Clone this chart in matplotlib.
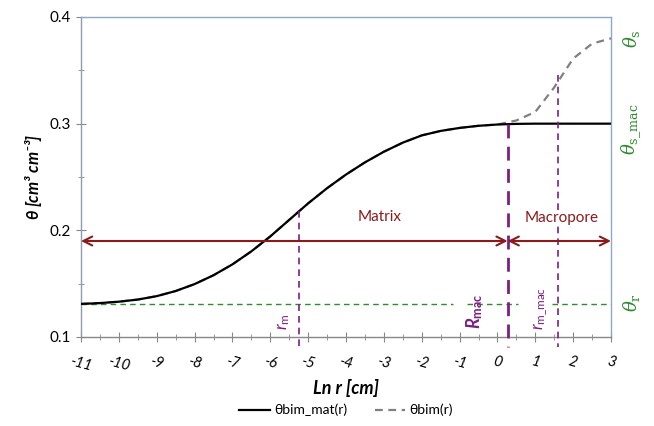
import matplotlib
matplotlib.use('Agg')
import matplotlib.pyplot as plt
import numpy as np

plt.rcParams['font.family'] = ['Lato', 'DejaVu Sans']
plt.rcParams['mathtext.fontset'] = 'custom'
plt.rcParams['mathtext.rm'] = 'Lato'
plt.rcParams['mathtext.it'] = 'Lato:italic'
plt.rcParams['mathtext.bf'] = 'Lato:bold'
plt.rcParams['mathtext.bfit'] = 'Lato:bold:italic'

# Ln r [cm]
ln_r = [-11, -10.5, -10, -9.5, -9, -8.5, -8, -7.5, -7, -6.5, -6, -5.5, -5, -4.5, -4,
        -3.5, -3, -2.5, -2, -1.5, -1, -0.5, 0, 0.5, 1, 1.5, 2, 2.5, 3]
theta_bim_mat = [0.1310, 0.1318, 0.1331, 0.1351, 0.1383, 0.1431, 0.1496, 0.1579, 0.1681,
                 0.1803, 0.1943, 0.2098, 0.2253, 0.2395, 0.2523, 0.2637, 0.2737, 0.2822,
                 0.2890, 0.2932, 0.2960, 0.2980, 0.2992, 0.2998, 0.3000, 0.3000, 0.3000,
                 0.3000, 0.3000]
theta_bim = [0.1310, 0.1318, 0.1331, 0.1351, 0.1383, 0.1431, 0.1496, 0.1579, 0.1681,
             0.1803, 0.1943, 0.2098, 0.2253, 0.2395, 0.2523, 0.2637, 0.2737, 0.2822,
             0.2890, 0.2932, 0.2960, 0.2980, 0.2992, 0.3030, 0.3110, 0.3340, 0.3610,
             0.3750, 0.3800]

theta_r = 0.131
theta_s = 0.380
theta_s_mac = 0.300
r_m = -5.25       # matrix median pore
r_m_mac = 1.6     # macropore median pore
R_mac = 0.27      # macropore boundary
arrow_y = 0.19
theta_at_rm = 0.218
theta_at_rmmac = 0.346

xticks = list(range(-11, 4))
xticklabels = ['-' + str(-v) if v < 0 else str(v) for v in xticks]
yticks = [0.1, 0.2, 0.3, 0.4]

purple = '#7B1F82'
maroon = '#8B1A1A'
green = '#2E8B2E'
spine_c = '#8EA9C8'

fig = plt.figure(figsize=(6.54, 4.26), dpi=100)
ax = fig.add_axes([81/654, 1 - 337/426, 530/654, 320/426])

ax.plot(ln_r, theta_bim_mat, color='black', lw=1.6, label='θbim_mat(r)', zorder=4)
ax.plot(ln_r, theta_bim, color='#808080', lw=1.6, ls=(0, (3.5, 2.5)), label='θbim(r)', zorder=3)

# theta_r guide line (split around labels)
ax.plot([-11, -1.17], [theta_r, theta_r], color=green, lw=1, ls=(0, (4, 3)), zorder=2)
ax.plot([-0.8, 0.55], [theta_r, theta_r], color=green, lw=1, ls=(0, (4, 3)), zorder=2)
ax.plot([1.45, 3.0], [theta_r, theta_r], color=green, lw=1, ls=(0, (4, 3)), zorder=2)

# vertical markers
ax.plot([r_m, r_m], [theta_at_rm, 0.091], color=purple, lw=1.2, ls=(0, (4, 3)),
        clip_on=False, zorder=5)
ax.plot([R_mac, R_mac], [theta_s_mac, 0.091], color=purple, lw=2, ls=(0, (5, 3)),
        clip_on=False, zorder=5)
ax.plot([r_m_mac, r_m_mac], [theta_at_rmmac, 0.091], color=purple, lw=1.2, ls=(0, (4, 3)),
        clip_on=False, zorder=5)

# Matrix / Macropore arrows
ax.annotate('', xy=(-11, arrow_y), xytext=(R_mac, arrow_y),
            arrowprops=dict(arrowstyle='<->', color=maroon, lw=1.5,
                            shrinkA=0, shrinkB=0, mutation_scale=16), zorder=6)
ax.annotate('', xy=(R_mac, arrow_y), xytext=(3, arrow_y),
            arrowprops=dict(arrowstyle='<->', color=maroon, lw=1.5,
                            shrinkA=0, shrinkB=0, mutation_scale=16), zorder=6)
ax.text(-3.1, 0.2128, 'Matrix', color=maroon, fontsize=11, ha='center', va='center')
ax.text(1.7, 0.2116, 'Macropore', color=maroon, fontsize=11, ha='center', va='center',
        bbox=dict(facecolor='white', edgecolor='none', pad=1), zorder=7)

# rotated labels
ax.text(-5.65, 0.114, r'$r_{\mathrm{m}}$', color=purple, fontsize=12, rotation=90,
        ha='center', va='center')
ax.text(-0.6, 0.124, r'$\mathbfit{R}_{\mathbf{mac}}$', color=purple, fontsize=13,
        rotation=90, ha='center', va='center')
ax.text(1.15, 0.127, r'$r_{\mathrm{m\_mac}}$', color=purple, fontsize=12, rotation=90,
        ha='center', va='center')

# right-hand theta labels
for val, lab in [(theta_s, r'$\theta_{\mathrm{s}}$'),
                 (0.295, r'$\theta_{\mathrm{s\_mac}}$'),
                 (theta_r + 0.001, r'$\theta_{\mathrm{r}}$')]:
    ax.text(3.53, val, lab, color=green, fontsize=13, rotation=90,
            ha='center', va='center', family='DejaVu Serif',
            math_fontfamily='dejavuserif')

ax.set_xlim(-11, 3)
ax.set_ylim(0.1, 0.4)
ax.set_xticks(xticks)
ax.set_xticks(np.arange(-10.5, 3, 1.0), minor=True)
ax.set_xticklabels(xticklabels, rotation=-15, style='italic', fontsize=10.5)
ax.set_yticks(yticks)
ax.set_yticks([0.15, 0.25, 0.35], minor=True)
ax.set_yticklabels(['0.1', '0.2', '0.3', '0.4'], fontsize=11)
ax.tick_params(axis='both', which='both', direction='inout', color='#888888')
ax.tick_params(axis='both', which='major', length=7)
ax.tick_params(axis='both', which='minor', length=4)
ax.tick_params(axis='x', pad=9)

for s in ax.spines.values():
    s.set_color(spine_c)
    s.set_linewidth(1)
ax.spines['bottom'].set_color('#888888')
ax.spines['left'].set_color('#8C9CB0')

ax.set_xlabel('Ln r [cm]', fontsize=13, fontweight='bold', style='italic', labelpad=4)
ax.set_ylabel(r'$\mathbfit{\theta}$ [cm³ cm⁻³]', fontsize=12, fontweight='bold',
              style='italic', labelpad=4)

ax.legend(loc='upper center', bbox_to_anchor=(0.5, -0.17), ncol=2, frameon=False,
          fontsize=10, handlelength=2.2, columnspacing=2.0, handletextpad=0.3)

fig.savefig('out.png', dpi=100)
